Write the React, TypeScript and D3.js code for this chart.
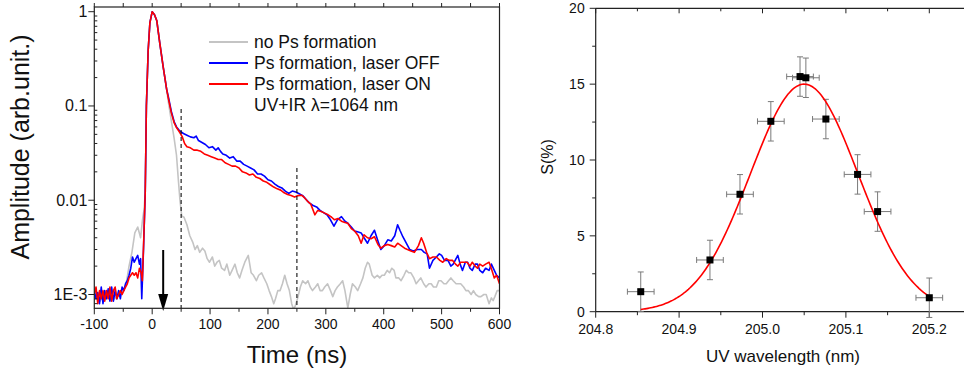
import * as d3 from "d3";

const width = 964;
const height = 377;

// left panel: time traces (ns, arb. unit)
const grayTrace: [number, number][] = [
  [-100, 0.0009], [-95, 0.001], [-90, 0.00085], [-85, 0.001], [-80, 0.0009], [-75, 0.00095],
  [-70, 0.001], [-65, 0.0009], [-60, 0.00095], [-55, 0.001], [-50, 0.0011], [-45, 0.0013],
  [-40, 0.002], [-35, 0.0028], [-30, 0.0045], [-25, 0.0052], [-20, 0.004], [-17, 0.006],
  [-14, 0.008], [-12, 0.012], [-10, 0.1], [-7, 0.38], [-4, 0.76], [0, 1.0], [4, 0.93],
  [8, 0.8], [13, 0.47], [19, 0.26], [25, 0.15], [28, 0.11], [33, 0.07], [38, 0.045],
  [42, 0.03], [45, 0.017], [48, 0.01], [51, 0.0068], [55, 0.0066], [60, 0.0055], [65, 0.0042],
  [70, 0.0036], [74, 0.003], [78, 0.0033], [82, 0.0028], [87, 0.0031], [91, 0.0029],
  [95, 0.0024], [99, 0.0022], [104, 0.0025], [108, 0.002], [112, 0.0022], [116, 0.0023],
  [120, 0.0019], [125, 0.0018], [129, 0.0021], [134, 0.0016], [138, 0.0018], [143, 0.0021],
  [147, 0.0017], [151, 0.0015], [155, 0.0018], [160, 0.0022], [166, 0.0026], [171, 0.0017],
  [175, 0.0016], [180, 0.0014], [184, 0.0016], [189, 0.0017], [193, 0.0015], [198, 0.0013],
  [202, 0.0011], [206, 0.00095], [210, 0.0008], [213, 0.0009], [217, 0.0011], [221, 0.0011],
  [225, 0.0013], [229, 0.0016], [233, 0.0013], [237, 0.0011], [241, 0.0008], [244, 0.0007],
  [247, 0.00075], [251, 0.0009], [256, 0.0012], [260, 0.0014], [265, 0.0013], [269, 0.0014],
  [273, 0.0012], [277, 0.0011], [282, 0.0012], [286, 0.0013], [290, 0.0011], [294, 0.0011],
  [298, 0.0012], [303, 0.0013], [308, 0.0011], [312, 0.00095], [316, 0.0011], [320, 0.0012],
  [325, 0.0013], [329, 0.0014], [333, 0.0011], [336, 0.00085], [338, 0.00072], [342, 0.001],
  [346, 0.0013], [351, 0.0012], [355, 0.0011], [360, 0.0013], [364, 0.0015], [368, 0.0019],
  [372, 0.0022], [375, 0.0021], [380, 0.0016], [384, 0.0015], [389, 0.0016], [393, 0.0015],
  [397, 0.0016], [401, 0.0016], [406, 0.0018], [410, 0.0017], [414, 0.0019], [418, 0.0018],
  [421, 0.0015], [426, 0.0015], [430, 0.0014], [435, 0.0016], [439, 0.0018], [443, 0.0017],
  [447, 0.0017], [452, 0.0015], [456, 0.0013], [460, 0.0014], [464, 0.0015], [469, 0.0013],
  [473, 0.0012], [478, 0.0013], [482, 0.0013], [486, 0.0012], [491, 0.0012], [495, 0.0014],
  [499, 0.0014], [504, 0.0013], [508, 0.0013], [512, 0.0014], [516, 0.0015], [520, 0.0014],
  [525, 0.0013], [529, 0.0013], [533, 0.0013], [538, 0.0012], [542, 0.0011], [546, 0.0011],
  [551, 0.001], [555, 0.0011], [559, 0.001], [564, 0.00095], [568, 0.00095], [573, 0.001],
  [577, 0.001], [582, 0.0008], [586, 0.00092], [589, 0.00086], [592, 0.00095], [596, 0.0011],
  [600, 0.0011],
];

const blueTrace: [number, number][] = [
  [-100, 0.0011], [-97, 0.0009], [-94, 0.00105], [-91, 0.0008], [-88, 0.0012], [-85, 0.0008],
  [-82, 0.0011], [-79, 0.0009], [-76, 0.00115], [-73, 0.00085], [-70, 0.0012], [-67, 0.00085],
  [-64, 0.0011], [-61, 0.0009], [-58, 0.0011], [-55, 0.0009], [-52, 0.0012], [-49, 0.0011],
  [-46, 0.0013], [-43, 0.0014], [-40, 0.0016], [-37, 0.0019], [-34, 0.0025], [-31, 0.0022],
  [-28, 0.0024], [-25, 0.0026], [-22, 0.0021], [-20, 0.0024], [-18, 0.0009], [-15, 0.003],
  [-12, 0.012], [-10, 0.1], [-7, 0.38], [-4, 0.76], [0, 1.0], [4, 0.93], [8, 0.8],
  [13, 0.47], [19, 0.26], [25, 0.15], [28, 0.125], [33, 0.088], [38, 0.068], [42, 0.06],
  [48, 0.054], [54, 0.051], [60, 0.049], [66, 0.047], [72, 0.046], [76, 0.048], [80, 0.043],
  [86, 0.041], [92, 0.039], [98, 0.036], [104, 0.037], [110, 0.034], [114, 0.036],
  [118, 0.033], [122, 0.031], [128, 0.030], [134, 0.028], [140, 0.029], [146, 0.026],
  [152, 0.026], [158, 0.024], [164, 0.023], [170, 0.022], [176, 0.021], [182, 0.019],
  [188, 0.019], [194, 0.018], [200, 0.0165], [206, 0.016], [212, 0.0148], [218, 0.014],
  [224, 0.0135], [230, 0.0125], [236, 0.0118], [242, 0.0125], [248, 0.0122], [254, 0.0117],
  [260, 0.0112], [266, 0.0102], [272, 0.0093], [278, 0.0088], [284, 0.0085], [290, 0.0078],
  [296, 0.0074], [302, 0.007], [308, 0.0062], [314, 0.0053], [320, 0.0062], [327, 0.0067],
  [333, 0.006], [338, 0.0057], [344, 0.0052], [350, 0.0047], [356, 0.0046], [361, 0.0045],
  [366, 0.004], [372, 0.0035], [378, 0.0042], [384, 0.0048], [390, 0.0037], [395, 0.003],
  [401, 0.0033], [407, 0.0038], [413, 0.0037], [419, 0.0042], [424, 0.0055], [428, 0.0048],
  [433, 0.0041], [439, 0.0035], [445, 0.003], [451, 0.0029], [458, 0.003], [465, 0.003],
  [470, 0.0028], [475, 0.0027], [479, 0.0019], [485, 0.0023], [491, 0.0025], [496, 0.0027],
  [500, 0.0026], [505, 0.0023], [511, 0.0023], [516, 0.002], [520, 0.0021], [528, 0.0026],
  [532, 0.0021], [536, 0.0018], [541, 0.0022], [545, 0.0022], [549, 0.0019], [553, 0.0018],
  [558, 0.0021], [562, 0.0021], [566, 0.0018], [571, 0.0017], [576, 0.0019], [582, 0.0018],
  [586, 0.0021], [591, 0.0018], [595, 0.0016], [600, 0.0015],
];

const redTrace: [number, number][] = [
  [-100, 0.001], [-97, 0.0012], [-94, 0.0008], [-91, 0.0011], [-88, 0.0009], [-85, 0.0011],
  [-82, 0.00085], [-79, 0.0011], [-76, 0.0009], [-73, 0.0012], [-70, 0.00085], [-67, 0.0011],
  [-64, 0.0012], [-61, 0.0009], [-58, 0.001], [-55, 0.0011], [-52, 0.001], [-49, 0.0011],
  [-46, 0.0012], [-43, 0.0013], [-40, 0.0015], [-37, 0.0016], [-34, 0.0017], [-31, 0.0016],
  [-28, 0.0017], [-25, 0.0015], [-22, 0.0019], [-19, 0.0017], [-17, 0.0014], [-15, 0.0032],
  [-12, 0.012], [-10, 0.1], [-7, 0.38], [-4, 0.76], [0, 1.0], [4, 0.93], [8, 0.8],
  [13, 0.47], [19, 0.26], [25, 0.15], [28, 0.12], [33, 0.085], [38, 0.066], [42, 0.059],
  [48, 0.052], [52, 0.047], [56, 0.04], [60, 0.037], [66, 0.036], [72, 0.034], [78, 0.034],
  [84, 0.033], [90, 0.031], [96, 0.030], [102, 0.029], [108, 0.028], [114, 0.027],
  [120, 0.027], [126, 0.025], [132, 0.024], [138, 0.023], [144, 0.023], [150, 0.022],
  [156, 0.020], [162, 0.0195], [168, 0.0185], [174, 0.019], [180, 0.0175], [186, 0.017],
  [192, 0.016], [198, 0.0155], [204, 0.0146], [210, 0.0138], [216, 0.0132], [222, 0.0128],
  [228, 0.012], [234, 0.0115], [240, 0.0112], [246, 0.0108], [252, 0.0112], [258, 0.0113],
  [262, 0.0108], [268, 0.0098], [274, 0.0091], [281, 0.007], [286, 0.0078], [292, 0.0076],
  [298, 0.0073], [304, 0.007], [310, 0.0066], [315, 0.0062], [321, 0.0064], [327, 0.006],
  [333, 0.0058], [338, 0.0057], [344, 0.005], [350, 0.0047], [356, 0.0042], [361, 0.0035],
  [366, 0.0043], [372, 0.004], [378, 0.0039], [384, 0.0041], [390, 0.0034], [395, 0.0031],
  [401, 0.0033], [407, 0.0034], [413, 0.0033], [419, 0.0032], [424, 0.0035], [430, 0.0033],
  [436, 0.0031], [441, 0.003], [447, 0.0029], [453, 0.0028], [460, 0.0033], [465, 0.004],
  [469, 0.0035], [474, 0.0028], [479, 0.0024], [485, 0.0025], [491, 0.0025], [497, 0.0023],
  [502, 0.0022], [508, 0.0024], [513, 0.0023], [519, 0.0023], [524, 0.0021], [528, 0.002],
  [533, 0.0022], [539, 0.0022], [544, 0.0022], [549, 0.002], [553, 0.0022], [558, 0.002],
  [562, 0.0019], [566, 0.0021], [571, 0.002], [576, 0.0021], [582, 0.0022], [587, 0.0018],
  [591, 0.0015], [595, 0.0016], [600, 0.0013],
];

const legendLabels = [
  "no Ps formation",
  "Ps formation, laser OFF",
  "Ps formation, laser ON",
];
const legendColors = ["#c4c4c4", "#0000ff", "#ff0000"];
const timeTicks = [-100, 0, 100, 200, 300, 400, 500, 600];
const ampTicks = [1, 0.1, 0.01, 0.001];
const ampTickLabels = ["1", "0.1", "0.01", "1E-3"];
const markerTimes = [50, 250];
const arrowTime = 19;

// right panel: signal vs UV wavelength
const wavelength = [204.854, 204.937, 204.973, 205.01, 205.045, 205.052, 205.076, 205.114, 205.138, 205.2];
const signal = [1.32, 3.41, 7.74, 12.55, 15.5, 15.42, 12.7, 9.05, 6.6, 0.92];
const signalErr = [1.3, 1.3, 1.3, 1.3, 1.3, 1.3, 1.3, 1.3, 1.3, 1.3];
const wavelengthErr = [0.016, 0.016, 0.016, 0.016, 0.016, 0.016, 0.016, 0.016, 0.016, 0.016];
const fitAmp = 15.0;
const fitCenter = 205.05;
const fitSigma = 0.0645;
const wlTicks = [204.8, 204.9, 205.0, 205.1, 205.2];
const sTicks = [0, 5, 10, 15, 20];

const font = "'Liberation Sans', Arial, sans-serif";

export default function App() {
  // left chart scales
  const xL = d3.scaleLinear().domain([-100, 600]).range([94.3, 499.5]);
  const yL = d3.scaleLog().domain([0.001, 1]).range([294.5, 11.7]);
  const leftBox = { x0: 94.3, x1: 499.5, y0: 7, y1: 308.3 };

  const line = d3
    .line<[number, number]>()
    .x((d) => xL(d[0]))
    .y((d) => yL(d[1]));

  const minorLog: number[] = [];
  [0.0001, 0.001, 0.01, 0.1].forEach((base) => {
    for (let k = 2; k <= 9; k++) {
      const v = base * k;
      const py = yL(v);
      if (py > leftBox.y0 && py < leftBox.y1) minorLog.push(v);
    }
  });
  const timeMinor = d3.range(-50, 600, 100);
  const timeTop = d3.range(-100, 601, 50);

  // right chart scales
  const xR = d3.scaleLinear().domain([204.8, 205.2]).range([595.7, 929.3]);
  const yR = d3.scaleLinear().domain([0, 20]).range([311.7, 8.3]);
  const rightBox = { x0: 595.7, x1: 964, y0: 8.3, y1: 311.7 };
  const wlMinor = [204.85, 204.95, 205.05, 205.15];
  const sMinor = [2.5, 7.5, 12.5, 17.5];

  const fitPts = d3.range(0, 201).map((i) => {
    const w = wavelength[0] + ((205.2 - wavelength[0]) * i) / 200;
    return [w, fitAmp * Math.exp(-((w - fitCenter) ** 2) / (2 * fitSigma ** 2))] as [number, number];
  });
  const fitLine = d3
    .line<[number, number]>()
    .x((d) => xR(d[0]))
    .y((d) => yR(d[1]));

  const axisColor = "#222";

  return (
    <div style={{ position: "fixed", left: 0, top: 0 }}>
      <svg width={width} height={height} style={{ display: "block", background: "#fff" }} fontFamily={font}>
        <defs>
          <clipPath id="left-clip">
            <rect x={leftBox.x0} y={leftBox.y0} width={leftBox.x1 - leftBox.x0} height={leftBox.y1 - leftBox.y0} />
          </clipPath>
        </defs>

        {/* ---------- left panel ---------- */}
        <g clipPath="url(#left-clip)" fill="none" strokeWidth={1.6} strokeLinejoin="round">
          <path d={line(grayTrace) ?? ""} stroke={legendColors[0]} />
          <path d={line(blueTrace) ?? ""} stroke={legendColors[1]} />
          <path d={line(redTrace) ?? ""} stroke={legendColors[2]} />
        </g>

        {markerTimes.map((t, i) => (
          <line
            key={t}
            x1={xL(t)}
            x2={xL(t)}
            y1={i === 0 ? 109 : 168}
            y2={leftBox.y1}
            stroke="#111"
            strokeWidth={1.1}
            strokeDasharray="4,3"
          />
        ))}

        {/* arrow */}
        <line x1={xL(arrowTime)} x2={xL(arrowTime)} y1={250} y2={298} stroke="#000" strokeWidth={2} />
        <path
          d={`M${xL(arrowTime) - 5},${294} L${xL(arrowTime) + 5},${294} L${xL(arrowTime)},${311} Z`}
          fill="#000"
        />

        {/* frame */}
        <rect
          x={leftBox.x0}
          y={leftBox.y0}
          width={leftBox.x1 - leftBox.x0}
          height={leftBox.y1 - leftBox.y0}
          fill="none"
          stroke={axisColor}
          strokeWidth={1.2}
        />

        {/* bottom axis */}
        {timeTicks.map((t) => (
          <g key={`bt${t}`}>
            <line x1={xL(t)} x2={xL(t)} y1={leftBox.y1} y2={leftBox.y1 + 6} stroke={axisColor} />
            <text x={xL(t)} y={leftBox.y1 + 21} textAnchor="middle" fontSize={14} fill="#111">
              {t}
            </text>
          </g>
        ))}
        {timeMinor.map((t) => (
          <line key={`bm${t}`} x1={xL(t)} x2={xL(t)} y1={leftBox.y1} y2={leftBox.y1 + 3.5} stroke={axisColor} />
        ))}
        {timeTop.map((t) => (
          <line key={`tt${t}`} x1={xL(t)} x2={xL(t)} y1={leftBox.y0} y2={leftBox.y0 - 4} stroke={axisColor} />
        ))}

        {/* left axis */}
        {ampTicks.map((v, i) => (
          <g key={`la${v}`}>
            <line x1={leftBox.x0 - 6} x2={leftBox.x0} y1={yL(v)} y2={yL(v)} stroke={axisColor} />
            <text x={leftBox.x0 - 7} y={yL(v) + 5.5} textAnchor="end" fontSize={16} fill="#111">
              {ampTickLabels[i]}
            </text>
          </g>
        ))}
        {minorLog.map((v) => (
          <line key={`lm${v}`} x1={leftBox.x0} x2={leftBox.x0 + 3} y1={yL(v)} y2={yL(v)} stroke={axisColor} />
        ))}

        {/* legend */}
        {legendLabels.map((label, i) => (
          <g key={label} transform={`translate(209, ${42 + i * 21})`}>
            <line x1={0} x2={39} y1={0} y2={0} stroke={legendColors[i]} strokeWidth={1.8} />
            <text x={45} y={6} fontSize={17.5} fill="#111">
              {label}
            </text>
          </g>
        ))}
        <text x={254} y={111} fontSize={17.5} fill="#111">
          UV+IR λ=1064 nm
        </text>

        {/* axis titles */}
        <text x={297} y={363} textAnchor="middle" fontSize={24} fill="#111">
          Time (ns)
        </text>
        <text
          transform={`translate(29, 147) rotate(-90)`}
          textAnchor="middle"
          fontSize={25}
          fill="#111"
        >
          Amplitude (arb.unit.)
        </text>

        {/* ---------- right panel ---------- */}
        <line x1={rightBox.x0} x2={rightBox.x1} y1={rightBox.y1} y2={rightBox.y1} stroke={axisColor} strokeWidth={1.2} />
        <line x1={rightBox.x0} x2={rightBox.x1} y1={rightBox.y0} y2={rightBox.y0} stroke={axisColor} strokeWidth={1.2} />
        <line x1={rightBox.x0} x2={rightBox.x0} y1={rightBox.y0} y2={rightBox.y1} stroke={axisColor} strokeWidth={1.2} />

        {wlTicks.map((w) => (
          <g key={`wt${w}`}>
            <line x1={xR(w)} x2={xR(w)} y1={rightBox.y1} y2={rightBox.y1 + 6} stroke={axisColor} />
            <line x1={xR(w)} x2={xR(w)} y1={rightBox.y0} y2={rightBox.y0 + 5} stroke={axisColor} />
            <text x={xR(w)} y={rightBox.y1 + 22} textAnchor="middle" fontSize={14} fill="#111">
              {w.toFixed(1)}
            </text>
          </g>
        ))}
        {wlMinor.map((w) => (
          <g key={`wm${w}`}>
            <line x1={xR(w)} x2={xR(w)} y1={rightBox.y1} y2={rightBox.y1 + 3.5} stroke={axisColor} />
            <line x1={xR(w)} x2={xR(w)} y1={rightBox.y0} y2={rightBox.y0 + 3} stroke={axisColor} />
          </g>
        ))}
        {sTicks.map((s) => (
          <g key={`st${s}`}>
            <line x1={rightBox.x0 - 6} x2={rightBox.x0} y1={yR(s)} y2={yR(s)} stroke={axisColor} />
            <text x={rightBox.x0 - 11} y={yR(s) + 5} textAnchor="end" fontSize={14} fill="#111">
              {s}
            </text>
          </g>
        ))}
        {sMinor.map((s) => (
          <line key={`sm${s}`} x1={rightBox.x0 - 3.5} x2={rightBox.x0} y1={yR(s)} y2={yR(s)} stroke={axisColor} />
        ))}

        {/* error bars */}
        <g stroke="#7a7a7a" strokeWidth={1}>
          {wavelength.map((w, i) => {
            const cx = xR(w);
            const cy = yR(signal[i]);
            const yt = yR(signal[i] + signalErr[i]);
            const yb = yR(signal[i] - signalErr[i]);
            const xl = xR(w - wavelengthErr[i]);
            const xr = xR(w + wavelengthErr[i]);
            return (
              <g key={`e${i}`}>
                <line x1={cx} x2={cx} y1={yt} y2={yb} />
                <line x1={cx - 3} x2={cx + 3} y1={yt} y2={yt} />
                <line x1={cx - 3} x2={cx + 3} y1={yb} y2={yb} />
                <line x1={xl} x2={xr} y1={cy} y2={cy} />
                <line x1={xl} x2={xl} y1={cy - 3} y2={cy + 3} />
                <line x1={xr} x2={xr} y1={cy - 3} y2={cy + 3} />
              </g>
            );
          })}
        </g>

        <path d={fitLine(fitPts) ?? ""} fill="none" stroke="#ff0000" strokeWidth={1.6} />

        {wavelength.map((w, i) => (
          <rect key={`m${i}`} x={xR(w) - 3.5} y={yR(signal[i]) - 3.5} width={7} height={7} fill="#000" />
        ))}

        <text x={783} y={362} textAnchor="middle" fontSize={17} fill="#111">
          UV wavelength (nm)
        </text>
        <text transform={`translate(553, 157) rotate(-90)`} textAnchor="middle" fontSize={16} fill="#111">
          S(%)
        </text>
      </svg>
    </div>
  );
}
